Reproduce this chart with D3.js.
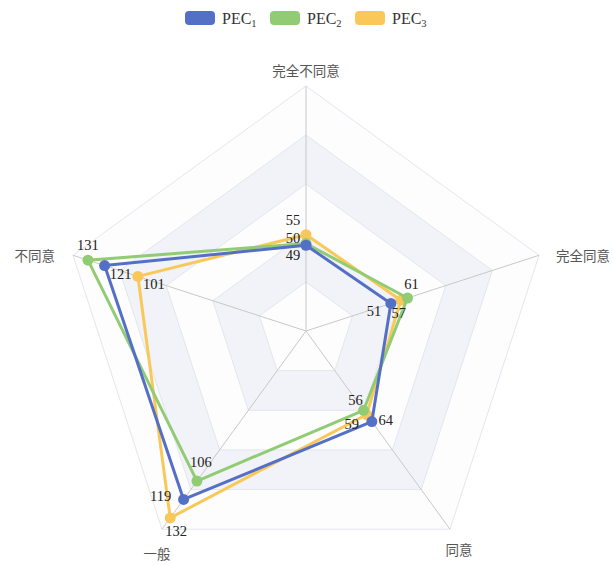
<!DOCTYPE html>
<html>
<head>
<meta charset="utf-8">
<script src="https://cdn.jsdelivr.net/npm/d3@7/dist/d3.min.js"></script>
<style>
  html, body { margin: 0; padding: 0; background: #fff; }
  svg { display: block; }
</style>
</head>
<body>
<svg id="chart" width="613" height="565"></svg>
<script>
// Radar indicators, listed counter-clockwise from the top
const indicators = ["完全不同意", "不同意", "一般", "同意", "完全同意"];
const seriesNames = ["PEC1", "PEC2", "PEC3"];
const pec1 = [49, 121, 119, 64, 51];
const pec2 = [50, 131, 106, 56, 61];
const pec3 = [55, 101, 132, 59, 57];
const axisMax = 140;
const splitCount = 5;

const colors = ["#5470c6", "#91cc75", "#fac858"];
// value-label offsets from each point (dx, dy)
const labelOffsets = [
  [[-13, 10], [16, 8], [-23, -3], [14, -2], [-17, 8]],
  [[-13, -6], [0, -15], [4, -19], [-8, -10], [4, -14]],
  [[-13, -15], [16, 8], [6, 13], [-15, 9], [-2, 13]]
];
// indicator-name offsets from each outer vertex: [dx, dy, anchor]
const nameOffsets = [[0, -16, "middle"], [-18, 0, "end"], [-5, 24, "middle"], [9, 20, "middle"], [17, 0, "start"]];

const seriesData = [pec1, pec2, pec3];
const svg = d3.select("#chart");
const cx = 306, cy = 331, R = 245;
const n = indicators.length;
const r = d3.scaleLinear().domain([0, axisMax]).range([0, R]);
const angle = i => -Math.PI / 2 - i * 2 * Math.PI / n;
const pt = (i, rad) => [cx + rad * Math.cos(angle(i)), cy + rad * Math.sin(angle(i))];

// split areas (alternating bands), drawn from outside in
const ringR = d3.range(splitCount, 0, -1).map(k => R * k / splitCount);
const grid = svg.append("g");
ringR.forEach((rr, idx) => {
  const k = splitCount - idx; // 5..1
  grid.append("polygon")
    .attr("points", d3.range(n).map(i => pt(i, rr).join(",")).join(" "))
    .attr("fill", k % 2 === 0 ? "#f1f3f8" : "#fdfdfe")
    .attr("stroke", "none");
});
ringR.forEach(rr => {
  grid.append("polygon")
    .attr("points", d3.range(n).map(i => pt(i, rr).join(",")).join(" "))
    .attr("fill", "none")
    .attr("stroke", "#e3e6ee")
    .attr("stroke-width", 1);
});
// spokes
d3.range(n).forEach(i => {
  const [x, y] = pt(i, R);
  grid.append("line")
    .attr("x1", cx).attr("y1", cy).attr("x2", x).attr("y2", y)
    .attr("stroke", "#c8c8c8").attr("stroke-width", 1);
});

// indicator names
d3.range(n).forEach(i => {
  const [x, y] = pt(i, R);
  const o = nameOffsets[i];
  svg.append("text")
    .attr("x", x + o[0]).attr("y", y + o[1])
    .attr("text-anchor", o[2])
    .attr("dominant-baseline", "central")
    .attr("font-family", "'Noto Sans CJK SC', sans-serif")
    .attr("font-size", 13.5)
    .attr("fill", "#555")
    .text(indicators[i]);
});

// series: drawn PEC3 first so PEC1 sits on top
const line = d3.line().curve(d3.curveLinearClosed);
[2, 1, 0].forEach(s => {
  const vals = seriesData[s];
  const pts = vals.map((v, i) => pt(i, r(v)));
  const g = svg.append("g");
  g.append("path")
    .attr("d", line(pts))
    .attr("fill", "none")
    .attr("stroke", colors[s])
    .attr("stroke-width", 3)
    .attr("stroke-linejoin", "round");
  g.selectAll("circle").data(pts).join("circle")
    .attr("cx", d => d[0]).attr("cy", d => d[1])
    .attr("r", 5.5)
    .attr("fill", colors[s]);
});
// value labels
[0, 1, 2].forEach(s => {
  seriesData[s].forEach((v, i) => {
    const [x, y] = pt(i, r(v));
    const o = labelOffsets[s][i];
    svg.append("text")
      .attr("x", x + o[0]).attr("y", y + o[1])
      .attr("text-anchor", "middle")
      .attr("dominant-baseline", "central")
      .attr("font-family", "'Liberation Serif', 'Times New Roman', serif")
      .attr("font-size", 14.5)
      .attr("fill", "#222")
      .text(v);
  });
});

// legend
const legend = svg.append("g");
seriesNames.forEach((name, s) => {
  const x0 = 185 + s * 85;
  legend.append("rect")
    .attr("x", x0).attr("y", 11)
    .attr("width", 30).attr("height", 14)
    .attr("rx", 4)
    .attr("fill", colors[s]);
  const t = legend.append("text")
    .attr("x", x0 + 37).attr("y", 23.5)
    .attr("font-family", "'Liberation Serif', 'Times New Roman', serif")
    .attr("font-size", 16)
    .attr("fill", "#333");
  t.append("tspan").text(name.slice(0, 3));
  t.append("tspan").attr("font-size", 10.5).attr("dy", 3).text(name.slice(3));
});
</script>
</body>
</html>
